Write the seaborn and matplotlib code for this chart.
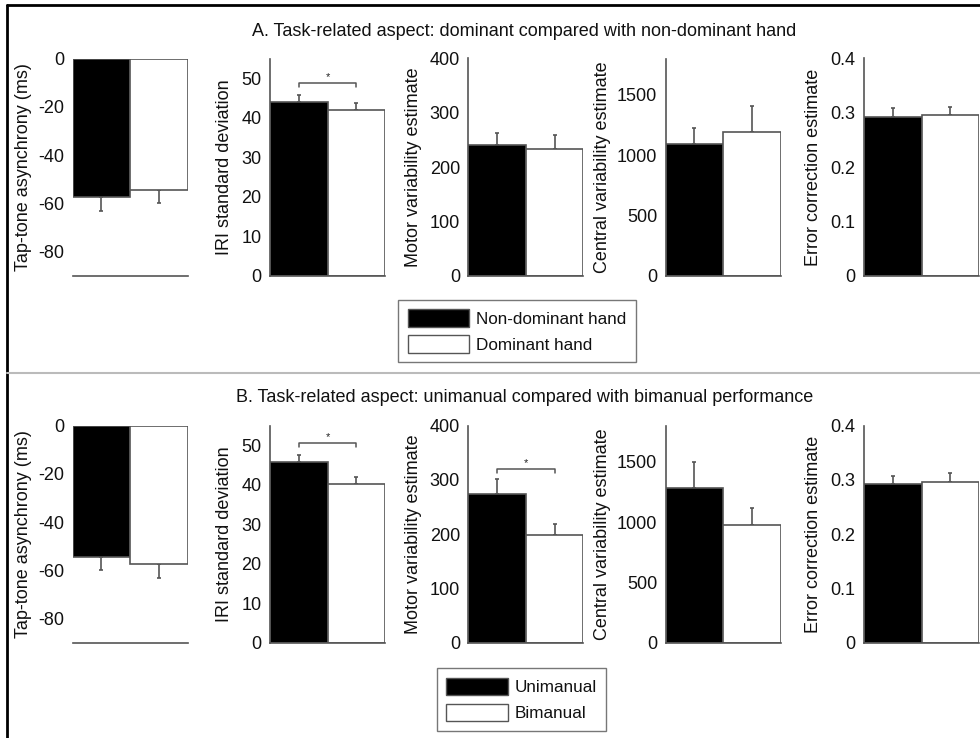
import numpy as np
import pandas as pd
import matplotlib
matplotlib.use("Agg")
import matplotlib.pyplot as plt
from matplotlib.patches import Patch
from matplotlib.lines import Line2D
import seaborn as sns

# ---- data -------------------------------------------------------------
measures = [
    "Tap-tone asynchrony (ms)",
    "IRI standard deviation",
    "Motor variability estimate",
    "Central variability estimate",
    "Error correction estimate",
]

# A: non-dominant vs dominant hand
hand_labels = ["Non-dominant hand", "Dominant hand"]
nondom_mean = [-57.5, 44.0, 240.0, 1089.0, 0.293]
nondom_sem = [5.5, 1.8, 22.0, 131.0, 0.016]
dom_mean = [-54.4, 42.0, 232.6, 1187.0, 0.2966]
dom_sem = [5.6, 1.8, 27.0, 219.0, 0.015]

# B: unimanual vs bimanual
mode_labels = ["Unimanual", "Bimanual"]
uni_mean = [-54.4, 45.7, 274.0, 1280.0, 0.2925]
uni_sem = [5.3, 1.8, 27.0, 220.0, 0.0145]
bi_mean = [-57.3, 40.3, 198.5, 980.0, 0.297]
bi_sem = [6.0, 1.8, 20.0, 138.0, 0.016]

# significance brackets: (panel index, bracket height)
hand_sig = [(1, 48.9)]
mode_sig = [(1, 50.6), (2, 321.0)]

# axis ranges and tick labels per measure
y_limits = [(-90, 0), (0, 55), (0, 400), (0, 1800), (0, 0.4)]
y_ticks = [
    [0, -20, -40, -60, -80],
    [0, 10, 20, 30, 40, 50],
    [0, 100, 200, 300, 400],
    [0, 500, 1000, 1500],
    [0, 0.1, 0.2, 0.3, 0.4],
]
y_ticklabels = [
    ["0", "-20", "-40", "-60", "-80"],
    ["0", "10", "20", "30", "40", "50"],
    ["0", "100", "200", "300", "400"],
    ["0", "500", "1000", "1500"],
    ["0", "0.1", "0.2", "0.3", "0.4"],
]

titles = [
    "A. Task-related aspect: dominant compared with non-dominant hand",
    "B. Task-related aspect: unimanual compared with bimanual performance",
]

# ---- style ------------------------------------------------------------
sns.set_theme(style="white")
plt.rcParams["font.family"] = ["Liberation Sans", "DejaVu Sans"]
plt.rcParams["font.size"] = 12

EDGE = "#555555"
TEXT = "#111111"
BAR_COLORS = ["black", "white"]

W, H = 980, 738
fig = plt.figure(figsize=(W / 100, H / 100), dpi=100)

lefts_px = [72.7, 270.0, 468.3, 665.7, 864.0]
width_px = 115.0
rows_px = [(58.5, 275.7), (425.7, 642.7)]
# horizontal position of each y-axis title, in axes fraction
label_x = [-0.357, -0.322, -0.405, -0.478, -0.368]


def draw_row(row, labels, mean_a, sem_a, mean_b, sem_b, sig):
    top_px, bot_px = rows_px[row]
    for i, measure in enumerate(measures):
        ax = fig.add_axes([
            lefts_px[i] / W,
            1 - bot_px / H,
            width_px / W,
            (bot_px - top_px) / H,
        ])
        df = pd.DataFrame({
            "condition": labels,
            "value": [mean_a[i], mean_b[i]],
        })
        sns.barplot(
            data=df, x="condition", y="value", hue="condition",
            palette=BAR_COLORS, width=1.0, edgecolor=EDGE, linewidth=1.2,
            errorbar=None, legend=False, ax=ax, zorder=2,
        )
        means = np.array([mean_a[i], mean_b[i]])
        sems = np.array([sem_a[i], sem_b[i]])
        lower = np.where(means < 0, sems, 0)
        upper = np.where(means >= 0, sems, 0)
        ax.errorbar([0, 1], means, yerr=[lower, upper], fmt="none",
                    ecolor=EDGE, elinewidth=1.2, capsize=1.6, capthick=1.2,
                    zorder=1)
        ax.set_xlim(-0.5, 1.5)
        ax.set_ylim(*y_limits[i])
        ax.set_yticks(y_ticks[i])
        ax.set_yticklabels(y_ticklabels[i])
        ax.set_xticks([])
        ax.set_xlabel("")
        ax.set_ylabel(measure, fontsize=13, color=TEXT)
        ax.yaxis.set_label_coords(label_x[i], 0.5)
        ax.tick_params(axis="y", length=0, pad=6, labelsize=13, colors=TEXT)
        for side in ["top", "right"]:
            ax.spines[side].set_visible(False)
        ax.spines["left"].set_color(EDGE)
        ax.spines["bottom"].set_color(EDGE)
        ax.spines["left"].set_linewidth(1.2)
        ax.spines["bottom"].set_linewidth(1.2)
        if i == 0:
            ax.spines["left"].set_visible(False)
        ax.set_facecolor("none")

        for idx, level in sig:
            if idx != i:
                continue
            span = y_limits[i][1] - y_limits[i][0]
            drop = 0.02 * span
            ax.plot([0, 0, 1, 1], [level - drop, level, level, level - drop],
                    color=EDGE, lw=1.1, clip_on=False, zorder=3)
            ax.text(0.5, level + 0.003 * span, "*", ha="center", va="bottom",
                    fontsize=8, color="#222222")


draw_row(0, hand_labels, nondom_mean, nondom_sem, dom_mean, dom_sem, hand_sig)
draw_row(1, mode_labels, uni_mean, uni_sem, bi_mean, bi_sem, mode_sig)

# panel titles
fig.text(524 / W, 1 - 31.5 / H, titles[0], ha="center", va="center",
         fontsize=13, color=TEXT)
fig.text(524.5 / W, 1 - 397.5 / H, titles[1], ha="center", va="center",
         fontsize=13, color=TEXT)


def add_legend(labels, x_px, y_px):
    handles = [Patch(facecolor=c, edgecolor=EDGE, linewidth=1.0)
               for c in BAR_COLORS]
    leg = fig.legend(
        handles, labels, loc="upper left",
        bbox_to_anchor=(x_px / W, 1 - y_px / H),
        bbox_transform=fig.transFigure,
        fontsize=12.3, frameon=True, fancybox=False, shadow=False,
        handlelength=3.6, handleheight=1.2, handletextpad=0.4,
        labelspacing=0.5, borderpad=0.55, borderaxespad=0,
    )
    leg.get_frame().set_edgecolor(EDGE)
    leg.get_frame().set_linewidth(1.0)
    for t in leg.get_texts():
        t.set_color(TEXT)


add_legend(hand_labels, 398.3, 300.0)
add_legend(mode_labels, 436.7, 668.3)

# outer frame (top and left) and divider between the two parts
fig.add_artist(Line2D([7 / W, 7 / W], [0, 1 - 5 / H], color="black", lw=2.0,
                      transform=fig.transFigure))
fig.add_artist(Line2D([7 / W, 1], [1 - 5 / H, 1 - 5 / H], color="black",
                      lw=2.0, transform=fig.transFigure))
fig.add_artist(Line2D([7 / W, 1], [1 - 372.7 / H, 1 - 372.7 / H],
                      color="#bbbbbb", lw=1.5, transform=fig.transFigure))

fig.savefig("out.png", dpi=100)
